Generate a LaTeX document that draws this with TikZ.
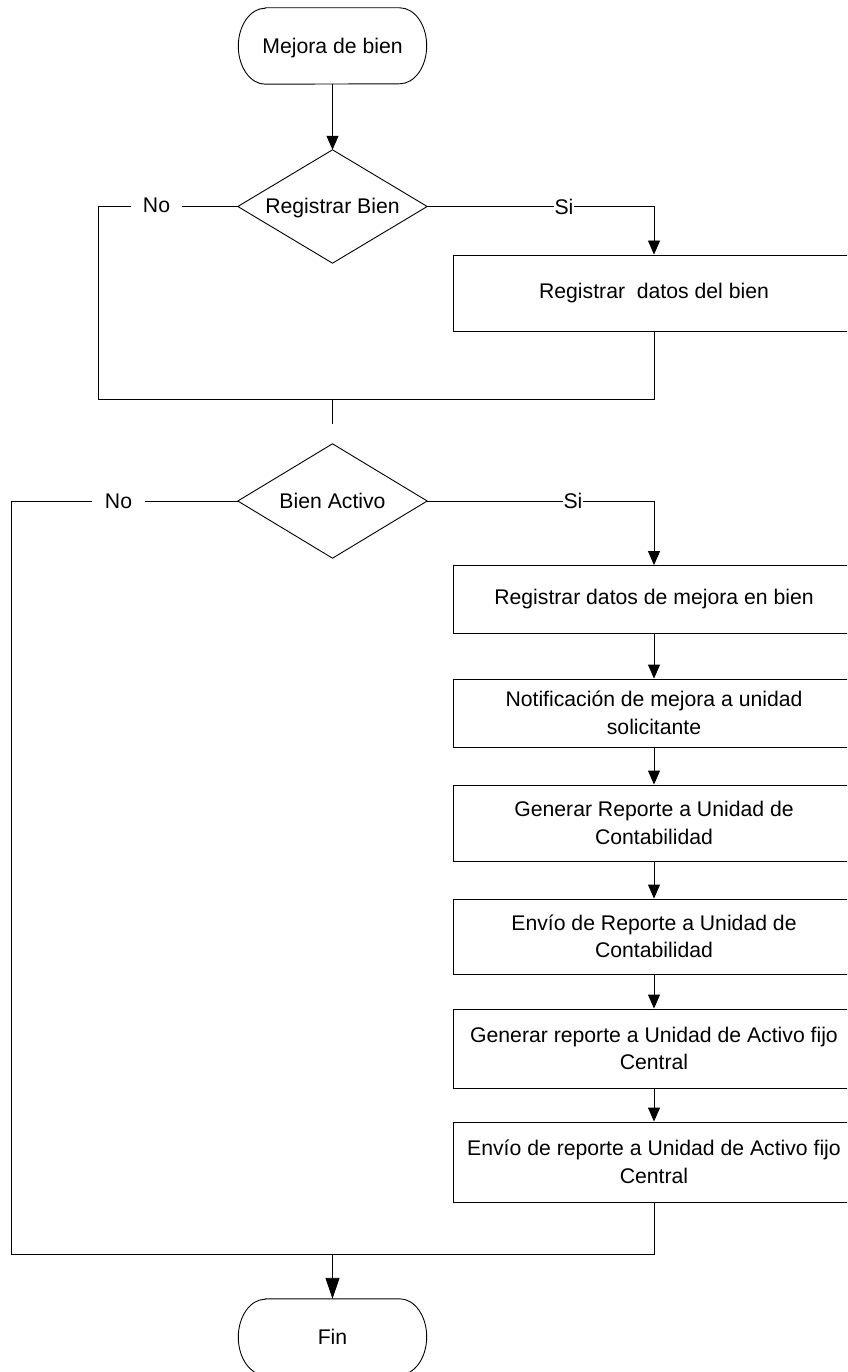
\documentclass[tikz,border=0pt]{standalone}
\usepackage{fontspec}
\setmainfont{Liberation Sans}
\usetikzlibrary{arrows.meta}
\begin{document}
\begin{tikzpicture}[x=1pt,y=1pt,
  every node/.style={font=\fontsize{21.2}{27.5}\selectfont, text=black},
  flow/.style={draw=black, line width=0.9pt},
  arr/.style={flow, -{Triangle[length=14pt,width=12pt]}},
  finalarr/.style={flow, -{Triangle[length=21pt,width=14pt]}},
  procbox/.style={draw=black, line width=0.9pt, minimum width=402pt, align=center, inner sep=0pt},
  shapebox/.style={minimum width=189pt, minimum height=113pt, inner sep=0pt, text height=15pt, text depth=0pt},
  termbox/.style={minimum width=188pt, minimum height=76pt, inner sep=0pt, text height=15pt, text depth=0pt},
  lbl/.style={fill=white, inner ysep=2pt}
]
\useasboundingbox (0,0) rectangle (847,-1372);
\clip (0,0) rectangle (847,-1372);
\fill[white] (0,0) rectangle (847,-1372);

% start / end terminals
\node[termbox] (start) at (332.5,-46) {Mejora de bien};
\node[termbox] (fin) at (332.5,-1337) {Fin};
\foreach \t in {start,fin}{
  \draw[flow] ([xshift=27pt]\t.north west) -- ([xshift=-27pt]\t.north east)
    arc[start angle=90,end angle=-90,x radius=27pt,y radius=38pt]
    -- ([xshift=27pt]\t.south west)
    arc[start angle=270,end angle=90,x radius=27pt,y radius=38pt] -- cycle;
}

% decisions
\node[shapebox] (d1) at (332.5,-206.5) {Registrar Bien};
\node[shapebox, minimum height=114pt] (d2) at (332.5,-501) {Bien Activo};
\foreach \d in {d1,d2}
  \draw[flow] (\d.north) -- (\d.east) -- (\d.south) -- (\d.west) -- cycle;

% process steps
\node[procbox, minimum height=76pt] (r1) at (654,-293) {Registrar\ \ datos del bien};
\node[procbox, minimum height=67.5pt] (r2) at (654,-599.3) {Registrar datos de mejora en bien};
\node[procbox, minimum height=68pt] (r3) at (654,-713) {Notificación de mejora a unidad\\solicitante};
\node[procbox, minimum height=76pt] (r4) at (654,-823) {Generar Reporte a Unidad de\\Contabilidad};
\node[procbox, minimum height=75pt] (r5) at (654,-936.5) {Envío de Reporte a Unidad de\\Contabilidad};
\node[procbox, minimum height=79pt] (r6) at (654,-1048.5) {Generar reporte a Unidad de Activo fijo\\Central};
\node[procbox, minimum height=80pt] (r7) at (654,-1162) {Envío de reporte a Unidad de Activo fijo\\Central};

% routing points
\coordinate (n1) at (98,-206.5);
\coordinate (j1r) at (654,-399);
\coordinate (j1) at (332.5,-399);
\coordinate (j1end) at (332.5,-424);
\coordinate (n2) at (11,-501);
\coordinate (j2r) at (654,-1254);
\coordinate (j2) at (332.5,-1254);

% connectors
\draw[arr] (start.south) -- (d1.north);
\draw[arr] (d1.east) -| (r1.north);
\draw[flow] (d1.west) -- (n1) |- (j1r) -- (r1.south);
\draw[flow] (j1) -- (j1end);

\draw[arr] (d2.east) -| (r2.north);
\draw[flow] (d2.west) -- (n2) |- (j2r) -- (r7.south);
\draw[arr] (r2.south) -- (r3.north);
\draw[arr] (r3.south) -- (r4.north);
\draw[arr] (r4.south) -- (r5.north);
\draw[arr] (r5.south) -- (r6.north);
\draw[arr] (r6.south) -- (r7.north);
\draw[finalarr] (j2) -- (fin.north);

% branch labels
\node[lbl, inner xsep=11.5pt] (no1) at (156.5,-205.5) {No};
\node[lbl, inner xsep=1pt] (si1) at (564,-206.5) {Si};
\node[lbl, inner xsep=13pt] (no2) at (118.5,-501) {No};
\node[lbl, inner xsep=1pt] (si2) at (573,-501) {Si};
\end{tikzpicture}
\end{document}
